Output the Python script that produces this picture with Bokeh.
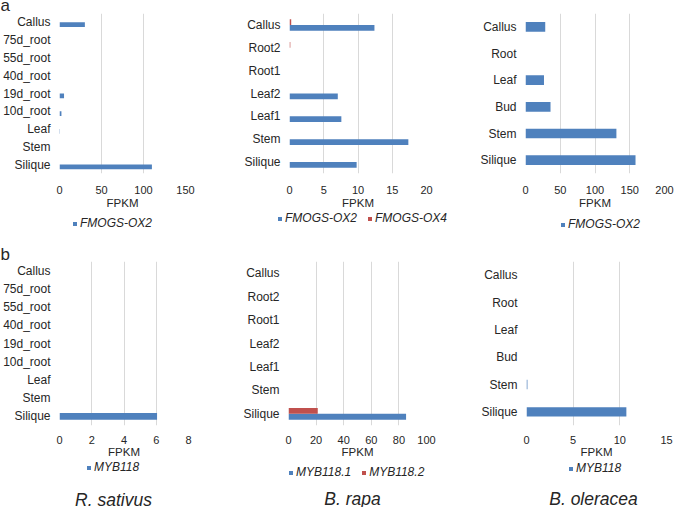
from bokeh.plotting import figure
from bokeh.models import (ColumnDataSource, FactorRange, Range1d, FixedTicker,
                          Legend, LegendItem)
from bokeh.layouts import column, row
from bokeh.transform import dodge
from bokeh.embed import file_html
from bokeh.resources import INLINE
from bokeh.core.properties import value

# ---------------- data ----------------
rs_tissues = ["Callus", "75d_root", "55d_root", "40d_root", "19d_root",
              "10d_root", "Leaf", "Stem", "Silique"]
br_tissues = ["Callus", "Root2", "Root1", "Leaf2", "Leaf1", "Stem", "Silique"]
bo_tissues = ["Callus", "Root", "Leaf", "Bud", "Stem", "Silique"]

rs_fmogs_ox2 = [30.2, 0, 0, 0, 5.4, 2.3, 0.6, 0, 110.0]
br_fmogs_ox2 = [12.4, 0, 0, 7.05, 7.57, 17.35, 9.8]
br_fmogs_ox4 = [0.25, 0.12, 0, 0, 0, 0, 0]
bo_fmogs_ox2 = [28.4, 0, 26.6, 36.0, 130.8, 158.3]

rs_myb118 = [0, 0, 0, 0, 0, 0, 0, 0, 6.05]
br_myb118_1 = [0, 0, 0, 0, 0, 0, 85.2]
br_myb118_2 = [0, 0, 0, 0, 0, 0, 21.2]
bo_myb118 = [0, 0, 0, 0, 0.1, 10.7]

ticks_a_rs = [0, 50, 100, 150]
ticks_a_br = [0, 5, 10, 15, 20]
ticks_a_bo = [0, 50, 100, 150, 200]
ticks_b_rs = [0, 2, 4, 6, 8]
ticks_b_br = [0, 20, 40, 60, 80, 100]
ticks_b_bo = [0, 5, 10, 15]

species = ["R. sativus", "B. rapa", "B. oleracea"]
panel_letters = ["a", "b"]

# ---------------- style ----------------
FONT = "Liberation Sans"
BLUE = "#4F81BD"
RED = "#C0504D"
TXT = "#262626"
GRID = "#d9d9d9"

COLW = [227, 228, 222]
TOTAL_W = sum(COLW)


def make_panel(tissues, ticks, width, height, left, right, top, bottom,
               tick_standoff, label_standoff):
    p = figure(width=width, height=height,
               y_range=FactorRange(factors=tissues[::-1]),
               x_range=Range1d(ticks[0], ticks[-1]),
               output_backend="svg", toolbar_location=None,
               min_border_left=left, min_border_right=right,
               min_border_top=top, min_border_bottom=bottom)
    p.outline_line_color = None
    p.background_fill_color = "white"
    p.border_fill_color = "white"
    tk = FixedTicker(ticks=ticks)
    p.xaxis.ticker = tk
    p.xgrid.ticker = tk
    p.xgrid.grid_line_color = GRID
    p.xgrid.grid_line_width = 1
    p.ygrid.visible = False
    for ax in (p.xaxis[0], p.yaxis[0]):
        ax.axis_line_color = None
        ax.major_tick_line_color = None
        ax.minor_tick_line_color = None
        ax.major_label_text_font = FONT
        ax.major_label_text_color = TXT
    p.xaxis.major_label_text_font_size = "11px"
    p.xaxis.major_label_standoff = tick_standoff
    p.xaxis.axis_label = "FPKM"
    p.xaxis.axis_label_text_font = FONT
    p.xaxis.axis_label_text_font_size = "11.5px"
    p.xaxis.axis_label_text_font_style = "normal"
    p.xaxis.axis_label_text_color = TXT
    p.xaxis.axis_label_standoff = label_standoff
    p.yaxis.major_label_text_font_size = "12px"
    p.yaxis.major_label_standoff = 3
    return p


def add_bars(p, tissues, vals, color, offset, h):
    src = ColumnDataSource(dict(t=tissues, v=vals))
    return p.hbar(y=dodge("t", offset, range=p.y_range), left=0, right="v",
                  height=h, source=src, fill_color=color, line_color=None)


def blank(width, height):
    """A plain pixel-scaled figure used for legends and free texts."""
    p = figure(width=width, height=height, x_range=Range1d(0, width),
               y_range=Range1d(0, height), x_axis_type=None, y_axis_type=None,
               output_backend="svg", toolbar_location=None,
               min_border=0, min_border_left=0, min_border_right=0,
               min_border_top=0, min_border_bottom=0)
    p.outline_line_color = None
    p.grid.visible = False
    p.background_fill_color = "white"
    p.border_fill_color = "white"
    return p


def add_legend(p, entries, x, y):
    items = []
    for lbl, color in entries:
        # zero-length placeholder outside the view; it only provides the legend swatch
        r = p.hbar(y=[-1000], left=[0], right=[0], height=1, fill_color=color,
                   line_color=None)
        items.append(LegendItem(label=value(lbl), renderers=[r]))
    leg = Legend(items=items, location=(x, y), orientation="horizontal",
                 glyph_width=5, glyph_height=5, label_standoff=3, spacing=10,
                 padding=0, margin=0, border_line_color=None,
                 background_fill_alpha=0, label_text_font=FONT,
                 label_text_font_size="12px", label_text_font_style="italic",
                 label_text_color=TXT, label_height=12)
    p.add_layout(leg)


def add_text(p, x, y, txt, size, style="normal", align="left", baseline="middle"):
    p.text(x=[x], y=[y], text=[txt], text_font=value(FONT), text_font_size=size,
           text_font_style=style, text_color=TXT, text_align=align,
           text_baseline=baseline)


# ---------------- letter a ----------------
HFA = 12
fa = blank(TOTAL_W, HFA)
add_text(fa, 0, 7.2, panel_letters[0], "17px")

# ---------------- row a ----------------
HA, TA, FHA = 199, 1, 161
BA = HA - TA - FHA
a1 = make_panel(rs_tissues, ticks_a_rs, COLW[0], HA, 57, 42, TA, BA, 6, 0)
add_bars(a1, rs_tissues, rs_fmogs_ox2, BLUE, -0.13, 0.27)

a2 = make_panel(br_tissues, ticks_a_br, COLW[1], HA, 62, 29, TA, BA, 6, 0)
add_bars(a2, br_tissues, br_fmogs_ox2, BLUE, -0.125, 0.25)
add_bars(a2, br_tissues, br_fmogs_ox4, RED, 0.125, 0.25)

a3 = make_panel(bo_tissues, ticks_a_bo, COLW[2], HA, 70, 13, TA, BA, 6, 0)
add_bars(a3, bo_tissues, bo_fmogs_ox2, BLUE, 0, 0.36)

# legends of row a (+ letter b)
HLA = 50
la1 = blank(COLW[0], HLA)
add_legend(la1, [("FMOGS-OX2", BLUE)], 72, 31)
add_text(la1, 0, 7.0, panel_letters[1], "17px")
la2 = blank(COLW[1], HLA)
add_legend(la2, [("FMOGS-OX2", BLUE), ("FMOGS-OX4", RED)], 50, 36)
la3 = blank(COLW[2], HLA)
add_legend(la3, [("FMOGS-OX2", BLUE)], 105, 30)

# ---------------- row b ----------------
HB, TB, FHB = 199, 0, 165
BB = HB - TB - FHB
b1 = make_panel(rs_tissues, ticks_b_rs, COLW[0], HB, 56, 39, TB, BB, 4, -1)
add_bars(b1, rs_tissues, rs_myb118, BLUE, 0, 0.36)

b2 = make_panel(br_tissues, ticks_b_br, COLW[1], HB, 61, 29, TB, BB, 4, -1)
add_bars(b2, br_tissues, br_myb118_1, BLUE, -0.125, 0.25)
add_bars(b2, br_tissues, br_myb118_2, RED, 0.125, 0.25)

b3 = make_panel(bo_tissues, ticks_b_bo, COLW[2], HB, 71, 11, TB, BB, 4, -1)
add_bars(b3, bo_tissues, bo_myb118, BLUE, 0, 0.34)

# legends of row b + species names
HLB = 47
lb1 = blank(COLW[0], HLB)
add_legend(lb1, [("MYB118", BLUE)], 86, 33)
add_text(lb1, 113, 8, species[0], "17.5px", style="italic", align="center")
lb2 = blank(COLW[1], HLB)
add_legend(lb2, [("MYB118.1", BLUE), ("MYB118.2", RED)], 61, 28)
add_text(lb2, 125, 9, species[1], "17.5px", style="italic", align="center")
lb3 = blank(COLW[2], HLB)
add_legend(lb3, [("MYB118", BLUE)], 113, 32)
add_text(lb3, 138, 9, species[2], "17.5px", style="italic", align="center")

layout = column(fa,
                row(a1, a2, a3),
                row(la1, la2, la3),
                row(b1, b2, b3),
                row(lb1, lb2, lb3))
open("out.html", "w").write(file_html(layout, INLINE))
